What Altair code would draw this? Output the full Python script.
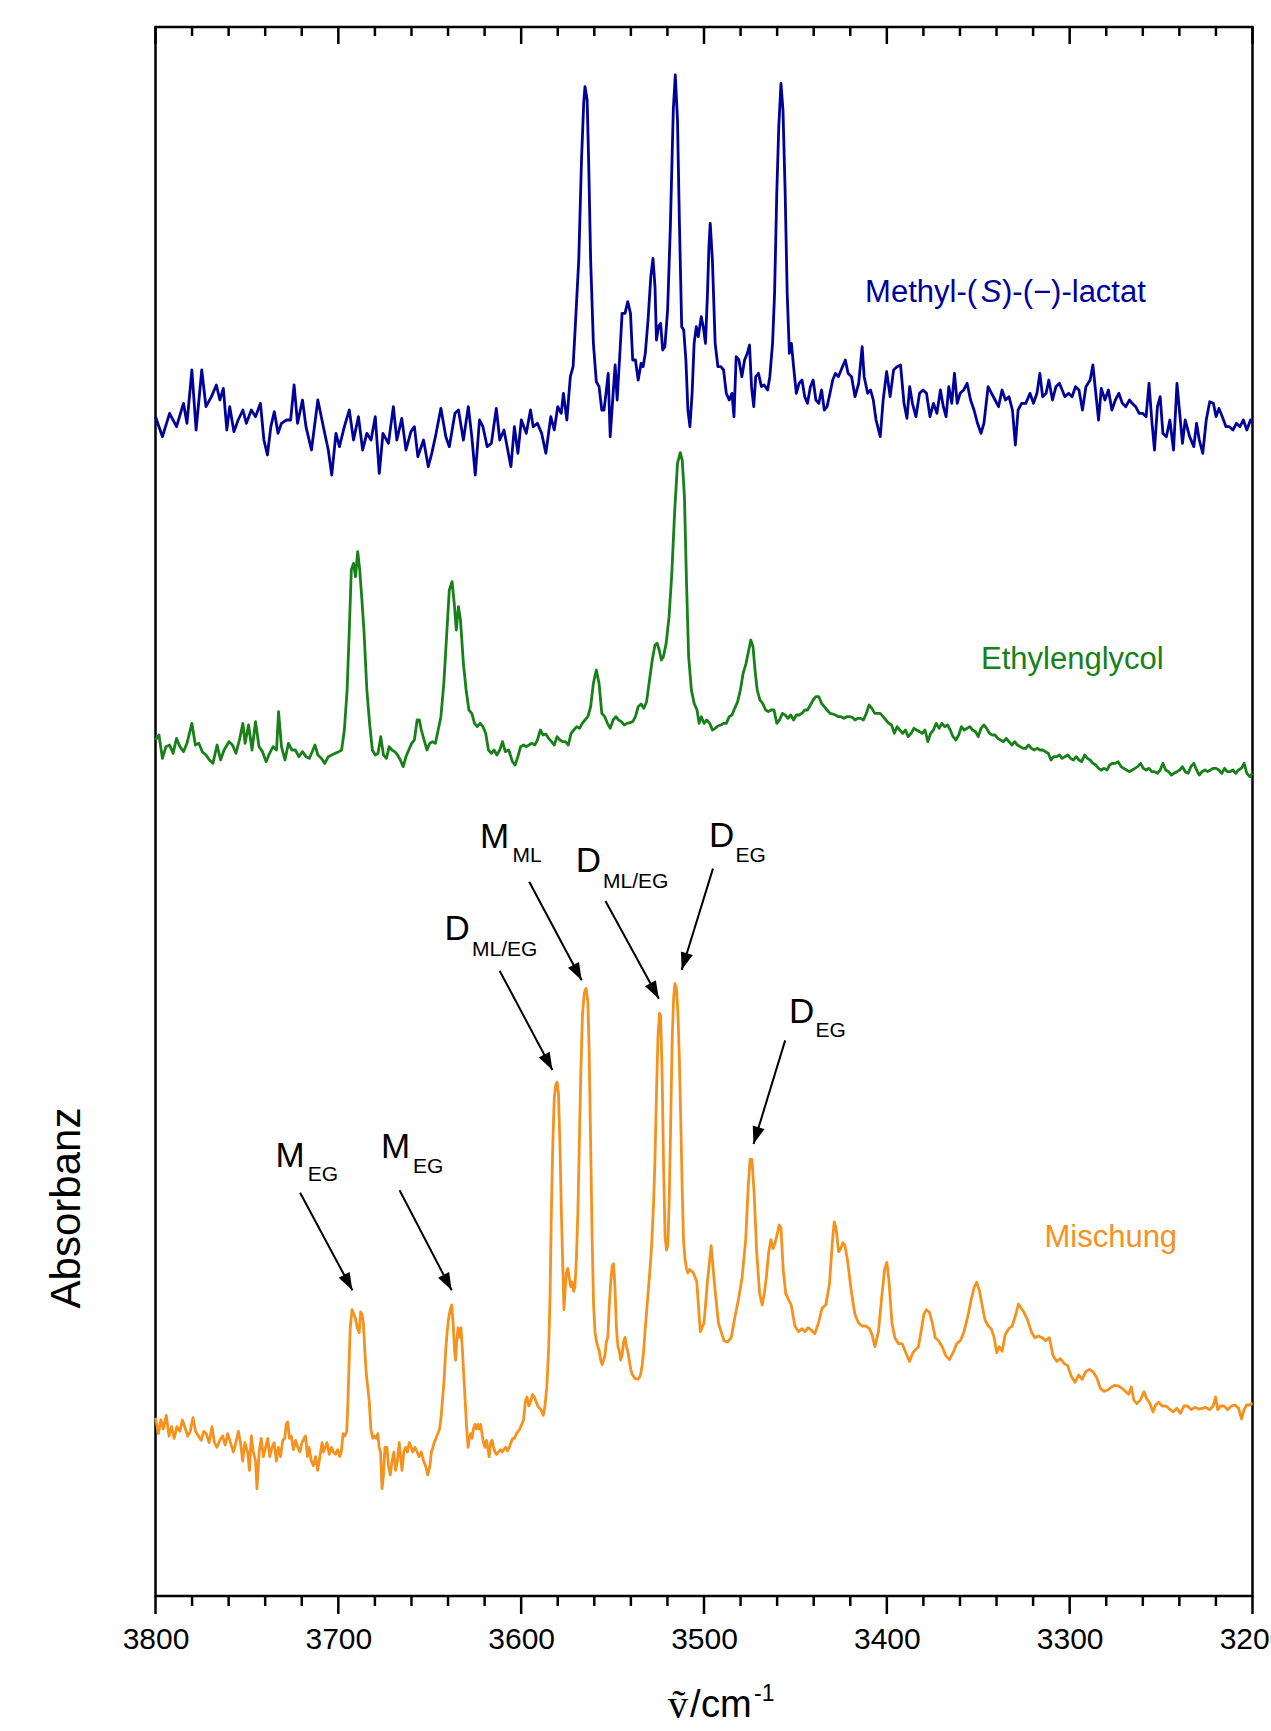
import math
import altair as alt
import pandas as pd

# ---------------- data ----------------
SERIES = ["Methyl-(S)-(−)-lactat", "Ethylenglycol", "Mischung"]
COLORS = ["#00009a", "#188018", "#f5921e"]

BLUE_WN = [3800.0, 3796.2, 3792.3, 3788.5, 3784.7, 3782.8, 3780.1, 3777.8, 3774.7, 3772.4, 3769.4, 3766.7, 3764.8, 3762.9,
           3761.0, 3759.4, 3757.1, 3754.8, 3752.2, 3750.3, 3747.6, 3745.3, 3742.6, 3740.7, 3738.8, 3736.9, 3735.0, 3733.0,
           3731.1, 3728.4, 3726.1, 3724.2, 3722.3, 3719.6, 3717.7, 3714.7, 3711.2, 3708.2, 3705.5, 3703.6, 3701.3, 3699.4,
           3696.7, 3694.0, 3691.7, 3689.0, 3686.7, 3684.4, 3682.1, 3679.8, 3677.6, 3675.6, 3672.6, 3669.9, 3668.0, 3665.3,
           3663.0, 3660.3, 3658.4, 3656.5, 3653.4, 3650.8, 3648.9, 3646.9, 3643.9, 3641.2, 3639.3, 3636.2, 3634.3, 3631.6,
           3628.9, 3627.0, 3625.1, 3622.8, 3620.9, 3618.6, 3616.3, 3613.6, 3611.7, 3609.4, 3605.6, 3603.7, 3601.8, 3599.9,
           3597.2, 3594.9, 3593.4, 3591.1, 3588.8, 3586.5, 3583.8, 3581.9, 3580.0, 3578.1, 3576.9, 3575.0, 3573.1, 3571.6,
           3570.4, 3568.5, 3567.0, 3565.8, 3565.1, 3563.9, 3563.1, 3562.0, 3560.5, 3558.9, 3557.4, 3555.9, 3554.7, 3553.6,
           3552.4, 3551.3, 3549.7, 3548.6, 3547.5, 3545.9, 3544.8, 3543.2, 3541.7, 3540.2, 3539.0, 3537.5, 3536.0, 3534.4,
           3533.3, 3532.1, 3530.6, 3529.1, 3527.9, 3526.8, 3526.0, 3524.9, 3523.7, 3522.6, 3521.4, 3519.9, 3518.4, 3516.8,
           3515.7, 3514.5, 3513.4, 3512.2, 3511.1, 3509.9, 3508.8, 3507.7, 3506.5, 3505.4, 3504.2, 3503.1, 3501.5, 3500.4,
           3499.2, 3498.1, 3497.3, 3496.6, 3495.4, 3493.9, 3492.4, 3490.8, 3489.3, 3487.8, 3486.2, 3484.7, 3483.6, 3482.4,
           3480.9, 3479.3, 3477.8, 3476.3, 3475.1, 3474.0, 3472.8, 3471.7, 3470.2, 3468.6, 3467.1, 3465.2, 3464.0, 3462.5,
           3461.4, 3460.2, 3459.1, 3457.9, 3456.8, 3455.6, 3454.5, 3453.3, 3452.2, 3451.0, 3449.5, 3448.0, 3446.4, 3444.9,
           3443.4, 3441.8, 3440.3, 3438.8, 3437.2, 3435.7, 3434.2, 3432.7, 3431.1, 3429.6, 3428.1, 3426.5, 3425.0, 3422.7,
           3421.2, 3419.3, 3417.4, 3415.4, 3413.5, 3412.4, 3410.5, 3408.9, 3407.4, 3405.9, 3403.6, 3402.0, 3400.1, 3398.2,
           3396.3, 3394.4, 3392.5, 3390.6, 3389.0, 3387.5, 3386.0, 3384.1, 3382.1, 3380.2, 3378.3, 3376.4, 3374.5, 3372.6,
           3370.7, 3369.1, 3367.6, 3366.1, 3364.5, 3363.0, 3361.5, 3359.9, 3358.0, 3356.1, 3354.2, 3352.3, 3350.4, 3348.5,
           3346.9, 3344.6, 3342.7, 3340.8, 3338.9, 3337.0, 3335.1, 3333.2, 3331.3, 3329.7, 3328.2, 3326.3, 3324.0, 3321.7,
           3319.8, 3317.9, 3316.3, 3314.8, 3312.9, 3311.4, 3309.4, 3307.5, 3305.6, 3304.1, 3302.6, 3300.6, 3298.7, 3296.8,
           3294.9, 3293.0, 3291.1, 3288.8, 3287.3, 3285.7, 3284.2, 3282.7, 3280.7, 3278.8, 3276.9, 3275.0, 3273.1, 3271.2,
           3269.3, 3267.3, 3265.8, 3263.9, 3262.0, 3260.1, 3258.2, 3256.6, 3255.1, 3253.6, 3252.0, 3250.5, 3249.0, 3247.1,
           3245.2, 3243.2, 3241.3, 3239.8, 3238.3, 3236.8, 3234.4, 3232.1, 3230.6, 3229.1, 3227.2, 3225.3, 3223.4, 3221.4,
           3219.9, 3218.4, 3216.5, 3214.5, 3212.6, 3210.7, 3208.8, 3206.9, 3205.0, 3203.1, 3201.1, 3200.0]
BLUE_A = [355, 349, 356, 352, 359, 353, 369, 351, 369, 358, 361, 364.5, 360, 363.5,
          351, 358, 350.5, 354, 357, 353, 357, 355, 359, 348, 343.5, 352, 356.5, 350,
          353, 354, 354, 364.5, 353, 360, 352, 345, 360, 352, 345, 337.5, 350, 346,
          352, 357, 348, 355, 345, 350, 348, 355, 338, 350, 347, 358, 348, 354.5,
          345, 350.5, 352, 343, 348, 340, 344, 349, 357.5, 349, 346, 356, 357, 348,
          358, 349, 337.5, 354, 352, 346, 347, 357.5, 348, 351, 340, 352, 344, 354,
          350, 357, 352, 353, 350, 344, 355, 351, 358, 356, 362, 354, 367, 370,
          382, 402, 432, 449, 454, 450, 432, 402, 377, 365.5, 364, 357, 357, 362,
          368, 349, 362, 370.5, 360, 375, 386, 386, 389.5, 386, 372, 372, 366, 371,
          370, 374, 384, 397, 402.5, 394, 378, 382, 383, 375, 376, 387, 412, 447,
          457.5, 444, 412, 382, 381, 372, 357, 352, 362, 377, 382, 379, 385, 382,
          377, 392, 406, 413, 402, 377, 370, 370, 369, 362, 360, 362, 355, 373,
          372, 367, 372, 374, 376.5, 364, 358, 367, 368, 364, 364.5, 363, 367, 377,
          392, 422, 442, 455, 447, 422, 392, 374, 377, 370, 362, 365, 366, 361,
          359, 364, 366, 360, 359, 363, 357, 358, 362, 366, 368, 367, 369, 372,
          368, 367, 361, 365, 376, 367, 362, 363, 360, 354, 349, 360, 368.5, 361,
          369, 370, 370.5, 359, 354.5, 364, 359, 355, 362, 363, 362, 355, 359, 356,
          363, 358, 355, 364, 359, 368, 359, 362, 363, 365, 360, 357, 353, 350,
          353, 364, 362, 360, 358, 363, 360, 361, 357, 346.5, 357, 359, 359, 362,
          359, 362, 368, 361, 362, 366, 360, 364, 365, 363, 361, 362, 361, 364,
          363, 357, 364, 366, 370.5, 362, 354, 363.5, 360, 363, 357, 360, 362, 359,
          358, 360, 359, 358, 356, 356, 355, 365, 354, 345, 358, 361, 350, 349,
          354, 345, 365, 356, 347, 354, 349, 346, 353, 348, 344, 354, 359.5, 359,
          355, 357.5, 355, 352, 352, 351, 353, 352, 354, 351, 354, 353]

GREEN_WN = [3800.0, 3798.1, 3796.2, 3794.3, 3792.3, 3790.4, 3788.5, 3786.6, 3784.7, 3782.8, 3780.1, 3778.2, 3776.3, 3774.4,
            3772.4, 3770.5, 3768.6, 3766.3, 3764.4, 3762.5, 3759.8, 3757.9, 3756.0, 3754.1, 3752.2, 3751.0, 3749.1, 3747.2,
            3745.3, 3743.4, 3741.5, 3739.5, 3737.6, 3735.7, 3733.8, 3732.7, 3731.1, 3729.2, 3727.3, 3725.4, 3723.5, 3721.6,
            3719.6, 3717.7, 3715.8, 3713.9, 3712.8, 3711.2, 3709.3, 3707.4, 3705.5, 3703.6, 3701.7, 3699.7, 3698.2, 3696.7,
            3695.2, 3694.0, 3692.9, 3691.7, 3690.6, 3689.4, 3688.3, 3687.1, 3686.0, 3684.4, 3682.9, 3681.4, 3679.8, 3678.3,
            3676.8, 3675.3, 3673.7, 3672.2, 3670.7, 3669.1, 3667.6, 3666.1, 3664.5, 3663.0, 3661.5, 3659.9, 3658.4, 3656.9,
            3655.7, 3654.6, 3653.1, 3651.5, 3650.0, 3648.5, 3646.9, 3645.4, 3643.9, 3642.3, 3640.8, 3639.3, 3637.8, 3636.6,
            3635.5, 3634.3, 3633.2, 3631.6, 3630.1, 3628.6, 3627.0, 3625.5, 3624.0, 3622.4, 3620.9, 3619.4, 3617.9, 3616.3,
            3614.8, 3613.3, 3611.7, 3610.2, 3608.7, 3606.8, 3604.8, 3603.3, 3601.8, 3600.3, 3598.7, 3597.2, 3595.7, 3594.1,
            3592.6, 3591.1, 3589.5, 3588.0, 3586.5, 3585.0, 3583.4, 3581.9, 3580.4, 3578.8, 3577.3, 3575.8, 3574.2, 3572.7,
            3571.2, 3569.6, 3568.1, 3566.6, 3565.1, 3563.5, 3562.0, 3560.5, 3558.9, 3557.4, 3555.9, 3554.3, 3552.8, 3551.3,
            3549.7, 3548.2, 3546.7, 3545.2, 3543.6, 3542.1, 3540.6, 3539.0, 3537.5, 3536.0, 3534.4, 3532.9, 3531.4, 3529.8,
            3528.3, 3526.8, 3525.6, 3524.5, 3523.3, 3522.2, 3520.7, 3519.1, 3517.6, 3516.1, 3514.5, 3513.0, 3511.9, 3510.7,
            3509.6, 3508.4, 3506.9, 3505.4, 3503.8, 3502.7, 3501.5, 3500.0, 3498.5, 3496.9, 3495.4, 3493.9, 3492.4, 3490.8,
            3489.3, 3487.8, 3486.2, 3484.7, 3483.2, 3481.6, 3480.1, 3478.6, 3477.0, 3475.5, 3474.4, 3473.2, 3472.1, 3470.9,
            3469.4, 3467.9, 3466.3, 3464.8, 3463.3, 3461.7, 3460.2, 3458.7, 3457.1, 3455.6, 3454.1, 3452.6, 3451.0, 3449.5,
            3448.0, 3446.4, 3444.9, 3443.4, 3441.8, 3440.3, 3438.8, 3437.2, 3435.7, 3434.2, 3432.7, 3431.1, 3429.6, 3428.1,
            3426.5, 3425.0, 3423.5, 3421.9, 3420.4, 3418.9, 3417.4, 3415.8, 3414.3, 3412.8, 3411.2, 3409.7, 3408.2, 3406.6,
            3405.1, 3403.6, 3402.0, 3400.5, 3399.0, 3397.4, 3395.9, 3394.4, 3392.9, 3391.3, 3389.8, 3388.3, 3386.7, 3385.2,
            3383.7, 3382.1, 3380.6, 3379.1, 3377.6, 3376.0, 3374.5, 3373.0, 3371.4, 3369.9, 3368.4, 3366.8, 3365.3, 3363.8,
            3362.2, 3360.7, 3359.2, 3357.7, 3356.1, 3354.6, 3353.1, 3351.5, 3350.0, 3348.5, 3346.9, 3345.4, 3343.9, 3342.3,
            3340.8, 3339.3, 3337.8, 3336.2, 3334.7, 3333.2, 3331.6, 3330.1, 3328.6, 3327.0, 3325.5, 3324.0, 3322.5, 3320.9,
            3319.4, 3317.9, 3316.3, 3314.8, 3313.3, 3311.7, 3310.2, 3308.7, 3307.2, 3305.6, 3304.1, 3302.6, 3301.0, 3299.5,
            3298.0, 3296.4, 3294.9, 3293.4, 3291.8, 3290.3, 3288.8, 3287.3, 3285.7, 3284.2, 3282.7, 3281.1, 3279.6, 3278.1,
            3276.5, 3275.0, 3273.5, 3271.9, 3270.4, 3268.9, 3267.4, 3265.8, 3264.3, 3262.8, 3261.2, 3259.7, 3258.2, 3256.6,
            3255.1, 3253.6, 3252.0, 3250.5, 3249.0, 3247.5, 3245.9, 3244.4, 3242.9, 3241.3, 3239.8, 3238.3, 3236.8, 3235.2,
            3233.7, 3232.1, 3230.6, 3229.1, 3227.6, 3226.0, 3224.5, 3223.0, 3221.4, 3219.9, 3218.4, 3216.8, 3215.3, 3213.8,
            3212.3, 3210.7, 3209.2, 3207.7, 3206.1, 3204.6, 3203.1, 3201.5, 3200.0]
GREEN_A = [258.0, 259.5, 252.5, 256.0, 256.5, 254.0, 258.5, 256.0, 254.5, 257.0, 263.0, 256.5, 257.0, 254.5,
           253.5, 252.0, 251.0, 256.5, 252.0, 255.0, 257.5, 256.5, 254.0, 258.0, 263.0, 257.0, 262.5, 255.0,
           263.5, 256.0, 254.5, 251.5, 254.0, 256.0, 255.0, 266.5, 256.0, 252.0, 257.0, 255.0, 255.0, 253.0,
           254.5, 253.0, 252.5, 255.0, 256.5, 253.5, 252.5, 251.0, 253.0, 253.5, 254.0, 254.5, 255.0, 261.0,
           273.0, 291.0, 309.0, 311.0, 307.0, 314.5, 309.0, 300.0, 291.0, 273.0, 263.0, 255.0, 253.5, 254.0,
           259.0, 253.5, 252.5, 256.0, 255.0, 254.5, 253.5, 252.0, 250.0, 253.0, 255.0, 257.0, 258.0, 264.0,
           264.0, 261.0, 258.0, 255.0, 257.0, 257.5, 257.0, 261.0, 265.0, 275.0, 289.0, 303.0, 305.5, 299.0,
           291.0, 298.0, 294.0, 281.0, 273.0, 267.0, 266.0, 263.0, 262.0, 263.0, 262.0, 260.0, 255.0, 254.0,
           255.0, 253.5, 255.0, 257.5, 254.5, 255.0, 251.5, 250.5, 253.0, 256.0, 256.5, 256.0, 256.5, 257.0,
           256.5, 258.0, 261.0, 259.5, 259.8, 258.5, 257.5, 256.5, 259.0, 258.0, 257.5, 257.5, 256.5, 260.0,
           261.0, 262.0, 261.5, 263.0, 264.0, 265.0, 268.0, 275.0, 279.0, 275.0, 266.0, 265.0, 263.0, 261.5,
           264.0, 265.0, 264.0, 263.5, 262.5, 263.0, 263.2, 263.5, 265.0, 268.0, 268.8, 267.5, 269.5, 276.0,
           282.0, 286.5, 287.0, 285.0, 282.0, 283.0, 287.0, 295.0, 308.0, 326.0, 341.0, 344.2, 342.0, 331.0,
           306.0, 283.0, 273.0, 269.0, 267.0, 263.0, 265.0, 263.0, 264.0, 263.0, 261.0, 261.5, 262.2, 262.5,
           263.0, 263.0, 265.0, 265.5, 267.5, 269.5, 273.0, 278.0, 281.0, 285.0, 288.0, 286.0, 279.0, 273.0,
           270.0, 269.0, 267.0, 266.5, 267.0, 267.0, 263.0, 264.0, 266.0, 265.5, 264.5, 265.5, 264.0, 265.5,
           265.5, 266.0, 267.0, 267.0, 268.5, 270.0, 271.0, 271.0, 269.0, 268.0, 267.0, 266.0, 265.8, 265.5,
           265.0, 265.0, 264.5, 265.0, 265.0, 264.8, 264.0, 264.5, 264.5, 264.0, 266.0, 268.5, 267.5, 266.0,
           266.0, 266.0, 265.0, 264.0, 263.0, 262.5, 260.0, 262.0, 261.0, 260.0, 261.0, 259.0, 260.0, 261.5,
           261.0, 260.5, 260.0, 261.0, 257.5, 260.0, 261.0, 263.0, 261.5, 263.0, 262.0, 262.5, 261.0, 259.0,
           258.0, 259.5, 262.0, 261.0, 261.5, 262.0, 261.0, 260.5, 259.0, 261.5, 262.5, 261.5, 260.0, 259.5,
           259.5, 258.5, 258.0, 257.5, 258.5, 257.5, 256.5, 257.5, 256.5, 256.0, 255.5, 255.5, 256.5, 255.5,
           255.0, 255.5, 255.0, 255.0, 254.5, 254.0, 252.0, 253.0, 253.0, 253.5, 252.5, 253.0, 253.5, 252.5,
           252.0, 253.0, 252.0, 251.5, 253.5, 252.5, 252.0, 251.0, 250.5, 249.5, 249.0, 249.5, 249.0, 250.5,
           251.0, 251.0, 251.5, 250.0, 249.5, 249.0, 248.5, 249.0, 249.5, 250.0, 251.0, 249.5, 249.0, 249.5,
           248.5, 248.5, 248.0, 249.0, 251.0, 249.0, 248.5, 247.5, 248.0, 248.5, 249.0, 250.0, 248.5, 248.0,
           250.0, 251.0, 249.0, 247.5, 248.5, 249.0, 248.5, 249.0, 249.5, 249.5, 249.0, 248.0, 249.5, 248.5,
           248.5, 249.0, 248.0, 249.0, 249.5, 251.0, 248.0, 247.0, 248.0]

ORANGE_WN = [3800.0, 3798.4, 3797.1, 3795.7, 3794.1, 3792.6, 3791.2, 3789.8, 3788.3, 3786.7, 3785.3, 3784.0, 3782.4, 3781.0,
             3779.5, 3778.1, 3776.5, 3775.0, 3773.6, 3772.2, 3770.7, 3769.1, 3767.8, 3766.4, 3764.8, 3763.3, 3761.9, 3760.5,
             3759.0, 3757.4, 3756.0, 3754.7, 3753.5, 3752.3, 3751.1, 3749.6, 3748.6, 3747.6, 3746.5, 3745.3, 3744.5, 3743.3,
             3742.2, 3741.0, 3739.8, 3738.6, 3737.5, 3736.3, 3735.1, 3733.9, 3732.8, 3731.6, 3730.4, 3729.3, 3728.5, 3727.7,
             3726.7, 3725.7, 3724.6, 3723.4, 3722.2, 3721.0, 3719.9, 3718.7, 3717.9, 3716.9, 3716.0, 3714.8, 3713.6, 3712.4,
             3711.3, 3710.1, 3708.9, 3708.1, 3707.2, 3706.2, 3705.0, 3703.8, 3702.7, 3701.5, 3700.3, 3699.2, 3698.4, 3697.4,
             3696.4, 3695.4, 3694.9, 3694.3, 3693.5, 3692.5, 3691.5, 3690.6, 3689.6, 3688.6, 3687.8, 3687.0, 3686.3, 3685.5,
             3684.7, 3683.9, 3683.1, 3682.2, 3681.2, 3680.2, 3679.2, 3678.4, 3677.7, 3676.9, 3676.1, 3675.3, 3674.5, 3673.4,
             3672.6, 3671.6, 3670.6, 3669.6, 3668.7, 3667.7, 3666.7, 3665.9, 3665.2, 3664.2, 3663.2, 3662.2, 3661.2, 3660.1,
             3659.3, 3658.1, 3656.9, 3655.8, 3654.6, 3653.4, 3652.3, 3651.1, 3649.9, 3649.1, 3648.3, 3647.6, 3646.6, 3645.6,
             3644.6, 3643.7, 3642.9, 3642.1, 3641.3, 3640.5, 3639.7, 3638.8, 3638.0, 3637.2, 3636.4, 3635.8, 3635.3, 3634.5,
             3633.7, 3632.9, 3632.1, 3631.3, 3630.6, 3629.8, 3629.0, 3628.4, 3627.6, 3626.9, 3626.1, 3625.3, 3624.5, 3623.7,
             3622.9, 3622.2, 3621.4, 3620.6, 3619.8, 3619.0, 3618.3, 3617.5, 3616.7, 3615.9, 3615.1, 3614.3, 3613.4, 3612.4,
             3611.4, 3610.4, 3609.5, 3608.5, 3607.5, 3606.5, 3605.6, 3604.6, 3603.6, 3602.6, 3601.6, 3600.7, 3599.7, 3598.7,
             3597.7, 3596.8, 3595.8, 3594.8, 3593.8, 3592.8, 3591.9, 3590.9, 3589.9, 3588.9, 3587.9, 3587.0, 3586.0, 3585.0,
             3584.2, 3583.5, 3582.7, 3581.9, 3581.1, 3580.3, 3579.6, 3578.8, 3578.0, 3577.2, 3576.6, 3576.0, 3575.3, 3574.5,
             3573.7, 3572.9, 3572.1, 3571.3, 3570.6, 3569.8, 3569.0, 3568.2, 3567.4, 3566.5, 3565.5, 3564.5, 3563.5, 3562.8,
             3562.0, 3561.2, 3560.4, 3559.6, 3558.8, 3558.1, 3557.3, 3556.5, 3555.7, 3554.9, 3554.2, 3553.4, 3552.6, 3551.8,
             3551.0, 3550.2, 3549.5, 3548.7, 3547.9, 3547.1, 3546.3, 3545.6, 3544.8, 3544.0, 3543.2, 3542.4, 3541.7, 3540.9,
             3540.1, 3539.3, 3538.5, 3537.7, 3537.0, 3536.2, 3535.4, 3534.6, 3533.8, 3533.0, 3532.3, 3531.5, 3530.7, 3529.9,
             3529.1, 3528.4, 3527.6, 3526.8, 3526.0, 3525.2, 3524.4, 3523.7, 3522.9, 3522.1, 3521.3, 3520.5, 3519.8, 3519.0,
             3518.2, 3517.4, 3516.6, 3515.9, 3515.1, 3514.3, 3513.5, 3512.7, 3511.9, 3511.2, 3510.4, 3509.6, 3508.8,
             3508.0, 3506.0, 3504.0, 3502.0, 3500.0, 3498.1, 3496.1, 3494.1, 3492.1, 3489.1, 3487.1, 3485.1, 3483.1, 3481.1,
             3479.2, 3477.2, 3475.8, 3474.8, 3473.8, 3472.6, 3471.2, 3469.6, 3468.2, 3467.0, 3465.8, 3464.6, 3463.4, 3462.2,
             3461.1, 3459.9, 3458.9, 3457.9, 3456.7, 3455.3, 3453.9, 3452.3, 3450.3, 3448.3, 3446.3, 3444.7, 3443.1, 3441.4,
             3439.4, 3437.4, 3435.4, 3433.4, 3431.4, 3429.8, 3428.8, 3427.8, 3426.4, 3425.2, 3424.1, 3422.9, 3421.5, 3419.5,
             3417.5, 3415.5, 3413.5, 3411.5, 3409.5, 3408.1, 3406.5, 3404.6, 3402.6, 3401.2, 3400.0, 3398.8, 3397.2, 3395.6,
             3393.6, 3391.6, 3389.6, 3387.6, 3385.7, 3384.3, 3382.7, 3381.3, 3379.7, 3378.3, 3376.7, 3375.1, 3373.5, 3371.7,
             3369.7, 3367.8, 3365.8, 3363.8, 3361.8, 3359.8, 3357.8, 3355.8, 3353.8, 3352.2, 3350.8, 3349.4, 3347.9, 3346.3,
             3344.5, 3342.9, 3341.3, 3339.9, 3338.5, 3336.9, 3335.3, 3333.3, 3331.4, 3329.4, 3328.0, 3326.6, 3325.0, 3323.0,
             3321.0, 3319.0, 3317.0, 3315.0, 3313.1, 3311.1, 3309.1, 3307.1, 3305.1, 3303.1, 3301.1, 3299.1, 3297.1, 3295.1,
             3293.2, 3291.2, 3289.2, 3287.2, 3285.2, 3283.2, 3281.2, 3279.2, 3277.2, 3275.3, 3273.3, 3271.3, 3269.3, 3267.7,
             3266.3, 3264.9, 3263.3, 3261.3, 3259.3, 3257.8, 3256.2, 3254.4, 3253.0, 3251.4, 3249.4, 3247.4, 3245.4, 3243.4,
             3241.4, 3239.4, 3237.5, 3235.5, 3233.5, 3231.5, 3229.5, 3227.5, 3225.5, 3223.5, 3221.5, 3220.2, 3219.0, 3217.6,
             3215.6, 3213.6, 3211.6, 3209.6, 3207.6, 3206.0, 3204.6, 3203.2, 3201.7, 3200.0]
ORANGE_A = [54.7, 49.9, 54.0, 51.3, 55.4, 49.2, 52.0, 48.5, 52.0, 50.6, 54.0, 52.0, 49.2, 50.6,
            54.7, 50.6, 49.2, 47.9, 50.6, 49.9, 47.2, 52.0, 47.2, 45.8, 47.9, 49.2, 46.5, 49.9,
            47.2, 44.4, 47.2, 50.6, 47.2, 41.7, 47.2, 44.4, 38.9, 49.2, 44.4, 41.7, 33.4, 44.4,
            48.5, 43.0, 45.8, 48.5, 43.0, 45.8, 47.2, 41.7, 45.8, 43.0, 47.9, 48.5, 52.7, 53.4,
            48.5, 49.2, 45.1, 47.9, 45.8, 44.4, 47.2, 48.5, 49.2, 43.0, 45.8, 41.7, 40.3, 43.0,
            38.9, 43.0, 47.2, 44.4, 45.8, 47.2, 43.7, 45.8, 44.4, 43.7, 45.1, 43.0, 44.4, 49.9,
            49.2, 50.6, 56.8, 67.8, 81.6, 87.1, 85.7, 84.4, 81.6, 80.2, 86.4, 85.7, 83.0, 74.7,
            67.8, 63.7, 59.6, 51.3, 48.5, 49.2, 48.5, 49.9, 45.8, 44.4, 33.4, 37.5, 45.8, 45.8,
            40.3, 37.5, 41.7, 44.4, 38.9, 41.7, 47.2, 43.0, 38.9, 44.4, 45.8, 44.4, 47.2, 45.8,
            44.4, 45.8, 44.4, 43.0, 44.4, 41.7, 40.3, 37.5, 40.3, 44.4, 45.8, 47.2, 48.5, 49.9,
            51.3, 55.4, 60.9, 66.4, 74.7, 80.2, 84.4, 87.1, 88.5, 83.0, 74.7, 72.0, 77.5, 81.6,
            78.8, 81.6, 74.7, 66.4, 59.6, 51.3, 45.8, 48.5, 49.9, 48.5, 51.3, 52.7, 51.3, 52.7,
            51.3, 52.7, 49.9, 47.2, 45.8, 47.9, 45.8, 43.0, 47.2, 47.9, 45.8, 44.4, 43.7, 44.4,
            45.1, 44.4, 45.1, 45.8, 44.7, 45.8, 47.2, 48.5, 48.5, 49.9, 50.6, 51.3, 52.7, 54.0,
            59.6, 60.9, 58.2, 59.6, 61.6, 60.9, 59.6, 58.2, 57.5, 56.8, 55.4, 58.2, 63.7, 74.7,
            91.2, 116.0, 136.7, 150.5, 154.6, 155.3, 151.8, 136.7, 116.0, 99.5, 87.1, 92.6, 98.1, 99.5,
            96.7, 94.0, 95.4, 92.6, 94.0, 102.3, 116.0, 136.7, 157.4, 175.3, 182.1, 183.5, 179.4, 164.2,
            136.7, 109.1, 88.5, 80.2, 77.5, 76.1, 74.7, 72.0, 70.6, 72.0, 73.3, 77.5, 78.8, 88.5,
            95.4, 100.2, 100.9, 94.0, 81.6, 76.1, 74.7, 72.0, 73.3, 77.5, 78.8, 76.1, 74.7, 72.0,
            69.2, 67.8, 67.1, 66.4, 66.4, 66.2, 66.7, 67.8, 70.6, 74.7, 80.2, 85.7, 91.2, 96.7,
            102.3, 109.1, 118.8, 132.6, 151.8, 168.4, 176.0, 175.3, 157.4, 129.8, 109.1, 105.0, 106.4, 120.2,
            143.6, 168.4, 180.8, 184.9, 183.5, 176.6, 162.9, 143.6, 122.9, 107.8, 102.3, 99.5, 98.1,
            99.2, 98.3, 95.6, 80.5, 83.1, 95.6, 106.3, 93.8, 83.1, 77.8, 77.4, 78.7, 84.9, 90.3,
            96.5, 108.1, 124.1, 132.2, 132.2, 122.4, 104.5, 92.0, 88.5, 92.0, 97.4, 104.5, 108.1, 105.4,
            107.2, 109.9, 112.5, 111.7, 99.2, 92.0, 90.3, 88.5, 82.2, 80.5, 81.4, 80.5, 81.7, 81.0,
            79.9, 83.1, 87.6, 88.5, 94.7, 107.2, 113.4, 111.7, 104.5, 105.4, 107.2, 106.3, 101.9, 92.9,
            85.8, 83.1, 82.2, 82.2, 81.4, 79.6, 76.0, 80.5, 92.0, 99.2, 101.3, 95.6, 83.1, 78.7,
            76.9, 76.9, 74.2, 71.6, 74.2, 75.1, 76.0, 80.5, 85.8, 87.1, 86.3, 83.1, 78.7, 77.8,
            76.0, 73.3, 72.1, 74.2, 76.9, 77.8, 80.5, 84.9, 90.3, 93.8, 95.3, 92.9, 88.5, 84.0,
            82.2, 81.4, 78.7, 74.2, 76.0, 74.6, 79.6, 81.4, 82.2, 85.8, 88.8, 87.6, 86.3, 84.0,
            80.5, 78.7, 79.2, 78.7, 77.8, 78.7, 73.3, 71.6, 72.4, 71.0, 70.3, 67.1, 65.3, 67.5,
            66.2, 68.5, 69.2, 68.5, 66.7, 63.5, 62.6, 63.0, 63.9, 64.4, 64.2, 63.5, 62.5, 61.7,
            63.9, 60.0, 58.9, 60.0, 62.5, 60.3, 59.1, 56.4, 58.5, 59.3, 58.2, 58.2, 57.3, 56.4,
            57.5, 56.0, 58.2, 58.2, 57.1, 57.8, 57.3, 57.5, 57.8, 57.1, 58.2, 60.9, 57.1, 58.2,
            58.2, 57.1, 58.2, 58.5, 57.5, 54.3, 57.1, 58.5, 58.5, 59.1]

# axis ticks
MAJOR_TICKS = [3800, 3700, 3600, 3500, 3400, 3300, 3200]
MINOR_TICKS = [3780, 3760, 3740, 3720, 3680, 3660, 3640, 3620, 3580, 3560, 3540, 3520,
               3480, 3460, 3440, 3420, 3380, 3360, 3340, 3320, 3280, 3260, 3240, 3220]

# peak annotations
ANN_MAIN = ["M", "M", "D", "M", "D", "D", "D"]
ANN_SUB = ["EG", "EG", "ML/EG", "ML", "ML/EG", "EG", "EG"]
ANN_MAIN_WN = [3734.3, 3676.7, 3641.9, 3622.5, 3570.2, 3497.3, 3453.5]
ANN_MAIN_A = [129.8, 132.6, 198.0, 225.6, 218.3, 225.8, 173.2]
ANN_SUB_WN = [3716.7, 3659.2, 3626.9, 3604.8, 3555.2, 3482.8, 3439.0]
ANN_SUB_A = [125.7, 128.2, 193.2, 221.4, 213.6, 221.3, 168.8]
ARROW_FROM_WN = [3720.9, 3666.5, 3611.8, 3595.6, 3553.9, 3495.1, 3455.6]
ARROW_FROM_A = [122.2, 122.9, 188.8, 215.5, 209.7, 219.4, 167.9]
ARROW_TO_WN = [3692.3, 3638.0, 3582.9, 3566.9, 3524.7, 3512.2, 3472.9]
ARROW_TO_A = [92.9, 92.9, 159.0, 185.9, 180.4, 189.0, 136.8]

# series labels (text pieces, anchor wavenumber, baseline value)
LABEL_PARTS = ["Methyl-(", "S", ")-(−)-lactat", "Ethylenglycol", "Mischung"]
LABEL_ITALIC = [False, True, False, False, False]
LABEL_SERIES = [0, 0, 0, 1, 2]
LABEL_WN = [3411.9, 3348.7, 3337.0, 3348.5, 3313.8]
LABEL_A = [389.4, 389.4, 389.4, 279.3, 106.0]

# ---------------- layout ----------------
W, H = 1097, 1569
PAD_L, PAD_T = 155.5, 27
X_DOM = [3800, 3200]
Y_DOM = [1.2, 471.9]
PX_WN = W / (X_DOM[0] - X_DOM[1])
PX_A = H / (Y_DOM[1] - Y_DOM[0])
FONT = "Liberation Sans"

xs = alt.Scale(domain=X_DOM, nice=False, zero=False)
ys = alt.Scale(domain=Y_DOM, nice=False, zero=False)
x_axis = alt.Axis(values=MAJOR_TICKS, format="d", title=None, ticks=False, tickSize=0, domain=False,
                  grid=False, labelFontSize=30, labelFont=FONT, labelColor="black", labelPadding=52,
                  labelBaseline="alphabetic", labelFlush=False, labelOverlap=False, labelAlign="center")


def X(field):
    return alt.X(field, type="quantitative", scale=xs, axis=x_axis)


def Y(field):
    return alt.Y(field, type="quantitative", scale=ys, axis=None)


rows = []
for name, wns, vals in zip(SERIES, [BLUE_WN, GREEN_WN, ORANGE_WN], [BLUE_A, GREEN_A, ORANGE_A]):
    for w, v in zip(wns, vals):
        rows.append({"wn": w, "a": v, "series": name})
spec_df = pd.DataFrame(rows)

lines = alt.Chart(spec_df).mark_line(strokeWidth=2.8, strokeJoin="round").encode(
    x=X("wn"), y=Y("a"),
    color=alt.Color("series:N", scale=alt.Scale(domain=SERIES, range=COLORS), legend=None),
    detail="series:N",
)

# arrows
arr = pd.DataFrame({"wn": ARROW_FROM_WN, "a": ARROW_FROM_A, "wn2": ARROW_TO_WN, "a2": ARROW_TO_A})
arr["angle"] = [
    math.degrees(math.atan2(-(f - t) * PX_WN, (fa - ta) * PX_A)) % 360
    for f, t, fa, ta in zip(ARROW_FROM_WN, ARROW_TO_WN, ARROW_FROM_A, ARROW_TO_A)
]
arrow_lines = alt.Chart(arr).mark_rule(color="black", strokeWidth=2).encode(
    x=X("wn"), x2="wn2", y=Y("a"), y2="a2"
)
HEAD = "M0,0L-0.62,-1.75L0.62,-1.75Z"
arrow_heads = alt.Chart(arr).mark_point(shape=HEAD, filled=True, size=400, color="black",
                                        opacity=1, strokeWidth=0).encode(
    x=X("wn2"), y=Y("a2"), angle=alt.Angle("angle:Q", scale=None)
)

ann_main = alt.Chart(pd.DataFrame({"wn": ANN_MAIN_WN, "a": ANN_MAIN_A, "t": ANN_MAIN})).mark_text(
    align="left", baseline="alphabetic", fontSize=35, font=FONT, color="black"
).encode(x=X("wn"), y=Y("a"), text="t:N")
ann_sub = alt.Chart(pd.DataFrame({"wn": ANN_SUB_WN, "a": ANN_SUB_A, "t": ANN_SUB})).mark_text(
    align="left", baseline="alphabetic", fontSize=21, font=FONT, color="black"
).encode(x=X("wn"), y=Y("a"), text="t:N")

lab_df = pd.DataFrame({"wn": LABEL_WN, "a": LABEL_A, "t": LABEL_PARTS, "it": LABEL_ITALIC,
                       "series": [SERIES[i] for i in LABEL_SERIES]})
label_layers = []
for italic in (False, True):
    label_layers.append(
        alt.Chart(lab_df[lab_df["it"] == italic]).mark_text(
            align="left", baseline="alphabetic", fontSize=31, font=FONT,
            fontStyle="italic" if italic else "normal"
        ).encode(
            x=X("wn"), y=Y("a"), text="t:N",
            color=alt.Color("series:N", scale=alt.Scale(domain=SERIES, range=COLORS), legend=None),
        )
    )

# frame ticks: top (inward) and bottom (outward)
maj = pd.DataFrame({"wn": MAJOR_TICKS})
mnr = pd.DataFrame({"wn": MINOR_TICKS})
tick_layers = [
    alt.Chart(maj).mark_rule(color="black", strokeWidth=2.5).encode(x=X("wn"), y=alt.value(0), y2=alt.value(17)),
    alt.Chart(mnr).mark_rule(color="black", strokeWidth=2.5).encode(x=X("wn"), y=alt.value(0), y2=alt.value(9)),
    alt.Chart(maj).mark_rule(color="black", strokeWidth=2.5).encode(x=X("wn"), y=alt.value(H), y2=alt.value(H + 18)),
    alt.Chart(mnr).mark_rule(color="black", strokeWidth=2.5).encode(x=X("wn"), y=alt.value(H), y2=alt.value(H + 10)),
]

# axis titles
one = pd.DataFrame({"k": [0]})
titles = [
    alt.Chart(one).mark_text(text="Absorbanz", angle=270, align="center", baseline="alphabetic",
                             fontSize=42, font=FONT, color="black").encode(
        x=alt.value(80 - PAD_L), y=alt.value(1208 - PAD_T)),
    alt.Chart(one).mark_text(text="ṽ", align="left", baseline="alphabetic", fontSize=40,
                             font="Liberation Serif", color="black").encode(
        x=alt.value(668 - PAD_L), y=alt.value(1718 - PAD_T)),
    alt.Chart(one).mark_text(text="/", align="left", baseline="alphabetic", fontSize=38,
                             font=FONT, color="black").encode(
        x=alt.value(690 - PAD_L), y=alt.value(1717 - PAD_T)),
    alt.Chart(one).mark_text(text="cm", align="left", baseline="alphabetic", fontSize=38,
                             font=FONT, color="black").encode(
        x=alt.value(701 - PAD_L), y=alt.value(1717 - PAD_T)),
    alt.Chart(one).mark_text(text="-1", align="left", baseline="alphabetic", fontSize=23,
                             font=FONT, color="black").encode(
        x=alt.value(754 - PAD_L), y=alt.value(1701 - PAD_T)),
]

chart = alt.layer(
    lines, arrow_lines, arrow_heads, ann_main, ann_sub, *label_layers, *tick_layers, *titles
).properties(
    width=W, height=H,
    autosize=alt.AutoSizeParams(type="none"),
    padding={"left": PAD_L, "top": PAD_T, "right": 1271 - PAD_L - W, "bottom": 1731 - PAD_T - H},
    background="white",
).configure_view(stroke="black", strokeWidth=2.5)

chart.save("out.html", embed_options={"renderer": "svg", "actions": False})
